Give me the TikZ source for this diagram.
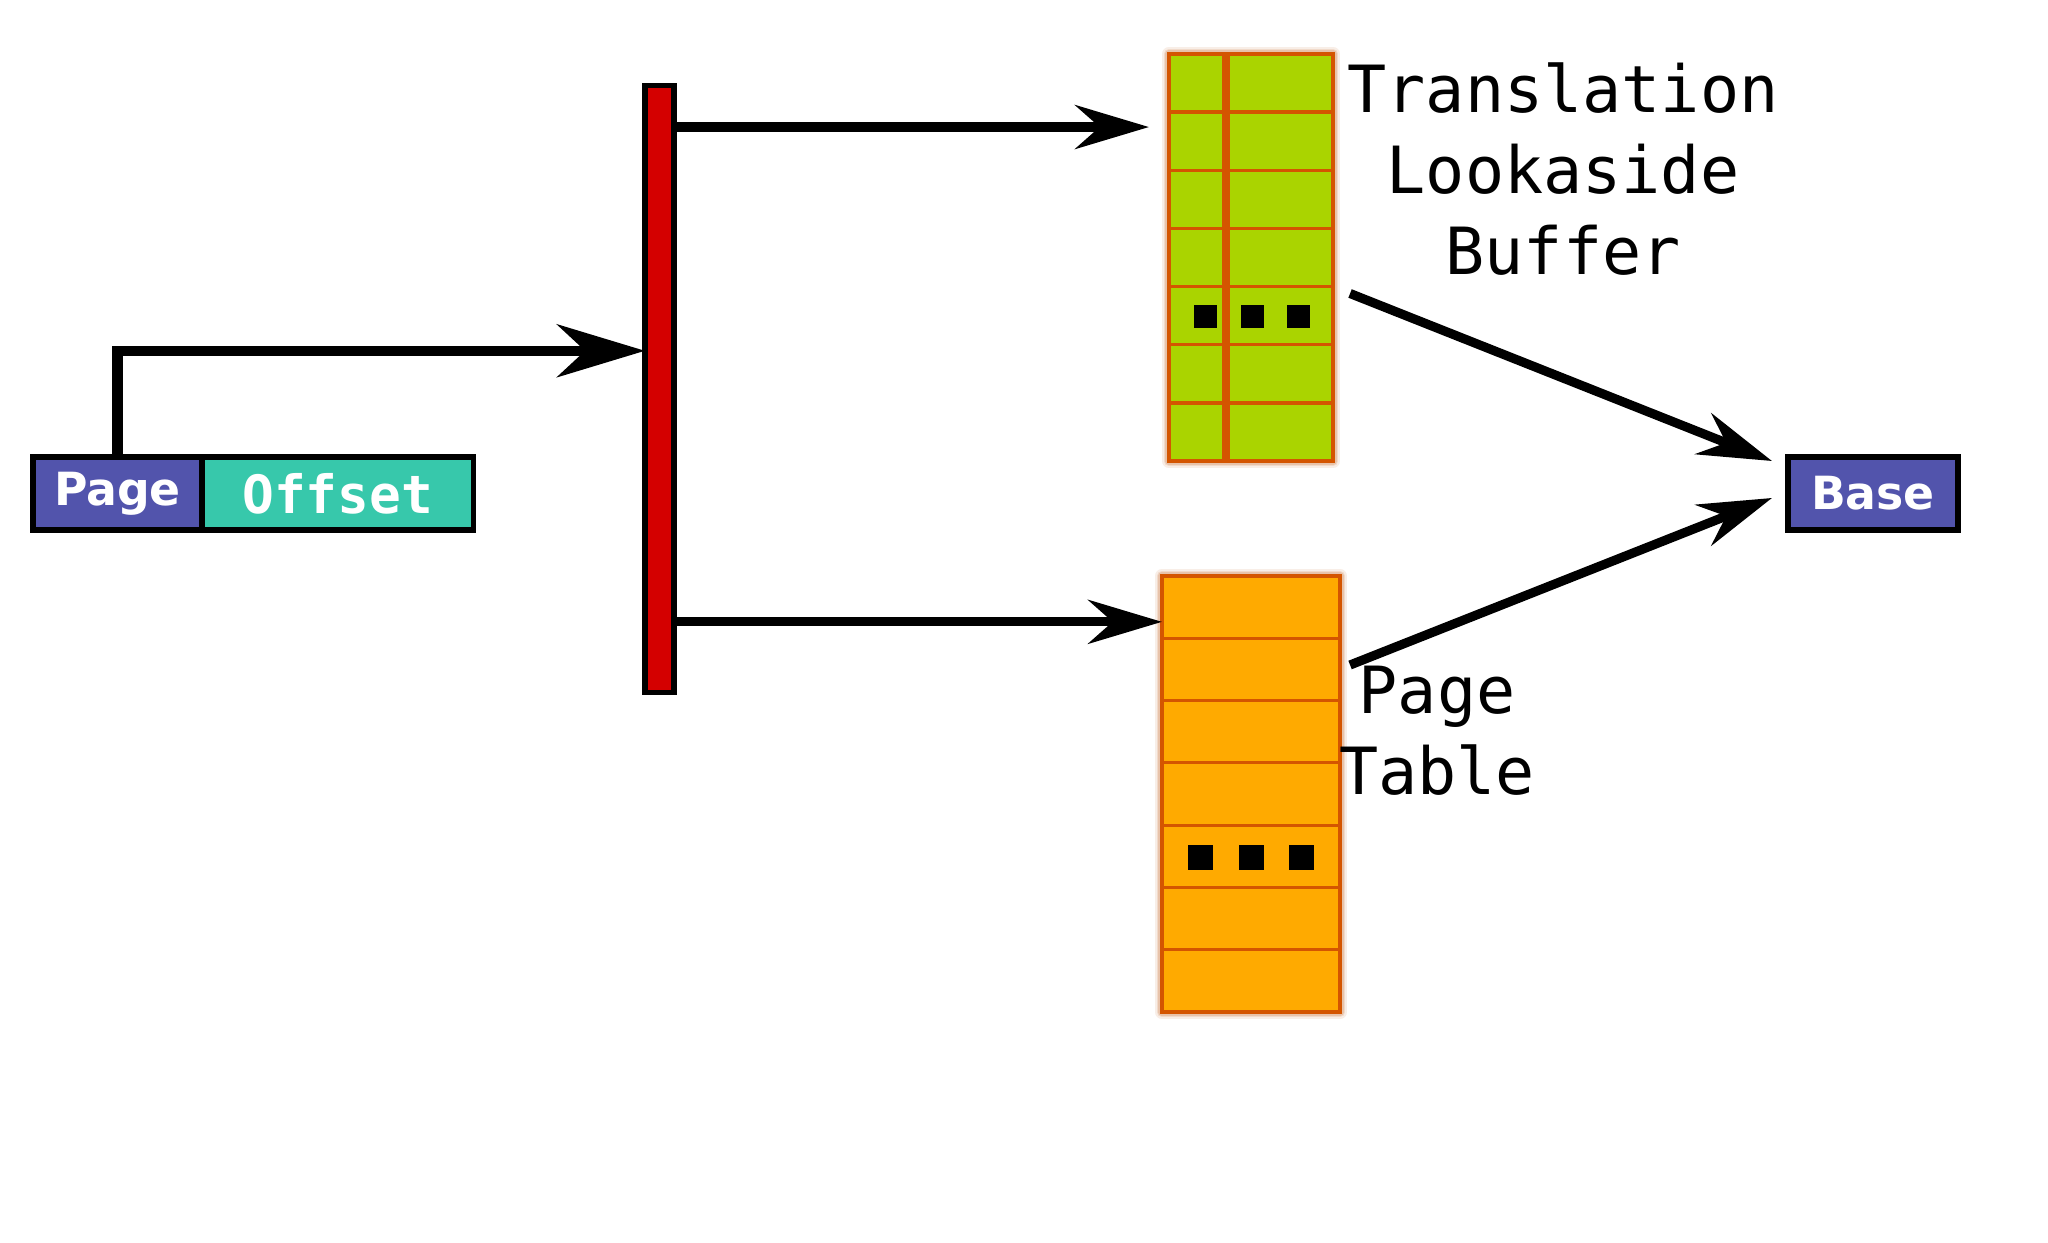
\documentclass[tikz,border=0pt]{standalone}
\usepackage{fontspec}
\usepackage{tikz}
\usetikzlibrary{calc,positioning,arrows.meta}
\newfontfamily\labelfont{DejaVu Sans Mono}
\newfontfamily\boxfont{DejaVu Sans}
\definecolor{pagecol}{RGB}{82,84,172}
\definecolor{offsetcol}{RGB}{55,200,171}
\definecolor{barred}{RGB}{212,0,0}
\definecolor{tlbgreen}{RGB}{170,212,0}
\definecolor{ptorange}{RGB}{255,170,0}
\definecolor{gridcol}{RGB}{212,85,0}
\definecolor{glowcol}{RGB}{200,113,55}
\tikzset{
  field/.style={draw=black, line width=1.5pt, inner sep=0pt, outer sep=0pt,
    minimum height=0.73cm, text=white, font=\boxfont\bfseries\fontsize{13}{15}\selectfont},
  tablebox/.style={draw=gridcol, line width=1pt, inner sep=0pt, outer sep=0pt,
    preaction={draw=glowcol, line width=4pt, line join=round, opacity=0.12},
    preaction={draw=glowcol, line width=3pt, line join=round, opacity=0.16},
    preaction={draw=glowcol, line width=2pt, line join=round, opacity=0.22}},
  gridline/.style={draw=gridcol, line width=0.9pt},
  title/.style={inner sep=0pt, align=center, font=\labelfont\fontsize{18.5}{23}\selectfont},
  arr/.style={line width=2.6pt, -{Stealth[length=21pt, width=12.5pt, inset=7pt]}},
  bigarr/.style={line width=3pt, -{Stealth[length=25pt, width=15pt, inset=8pt]}}
}

\begin{document}
\begin{tikzpicture}[x=0.01cm, y=-0.01cm]
  \useasboundingbox (0,0) rectangle (2048,1243);

  % virtual address
  \node[field, fill=pagecol, minimum width=1.69cm] (page) at (117.5,493.5) {Page};
  \node[field, fill=offsetcol, minimum width=2.71cm, right=0pt of page,
    font=\labelfont\bfseries\fontsize{15}{17}\selectfont] (offset) {Offset};

  \node[draw=black, line width=1.5pt, fill=barred, inner sep=0pt, outer sep=0pt,
    minimum width=0.29cm, minimum height=6.06cm] (bar) at (659.5,389) {};

  \node[tablebox, fill=tlbgreen, minimum width=1.64cm, minimum height=4.07cm] (tlb) at (1251,257.5) {};
  \node[tablebox, fill=ptorange, minimum width=1.78cm, minimum height=4.36cm] (ptable) at (1251,794) {};

  \node[field, fill=pagecol, minimum width=1.70cm] (base) at (1873,493.5) {Base};

  % rows
  \foreach \r in {1,...,6} {
    \draw[gridline] ($(tlb.north west)!\r/7!(tlb.south west)$) -- ($(tlb.north east)!\r/7!(tlb.south east)$);
    \draw[gridline] ($(ptable.north west)!\r/7!(ptable.south west)$) -- ($(ptable.north east)!\r/7!(ptable.south east)$);
  }
  \draw[gridline, line width=2.3pt] ($(tlb.north west)!0.348!(tlb.north east)$) -- ($(tlb.south west)!0.348!(tlb.south east)$);
  \draw[draw=gridcol, line width=1pt] (tlb.north west) rectangle (tlb.south east);
  \draw[draw=gridcol, line width=1pt] (ptable.north west) rectangle (ptable.south east);

  % dots
  \foreach \dx in {-46,1,47}
    \fill ($(tlb.center)+(\dx,59.5)$) +(-11.5,-11.5) rectangle +(11.5,11.5);
  \foreach \dx in {-51,0,50}
    \fill ($(ptable.center)+(\dx,63)$) +(-12.5,-12.5) rectangle +(12.5,12.5);

  \node[title, anchor=north] (tlblabel) at (1563,62) {Translation\\Lookaside\\Buffer};
  \node[title, anchor=north] (ptlabel) at (1437,665) {Page\\Table};

  \coordinate (hi) at ($(bar.north east)!0.068!(bar.south east)$);
  \coordinate (lo) at ($(bar.north east)!0.884!(bar.south east)$);

  \draw[bigarr] (page.north) |- ($(bar.north west)!0.437!(bar.south west)$);
  \draw[arr, shorten >=0.2cm] (hi) -- (tlb.west |- hi);
  \draw[arr] (lo) -- (ptable.west |- lo);
  \draw[arr] ($(tlb.east)+(17,36)$) -- ($(base.west)+(-16,-32.5)$);
  \draw[arr] ($(ptable.east)+(10,-129)$) -- ($(base.west)+(-16,4.5)$);
\end{tikzpicture}
\end{document}
